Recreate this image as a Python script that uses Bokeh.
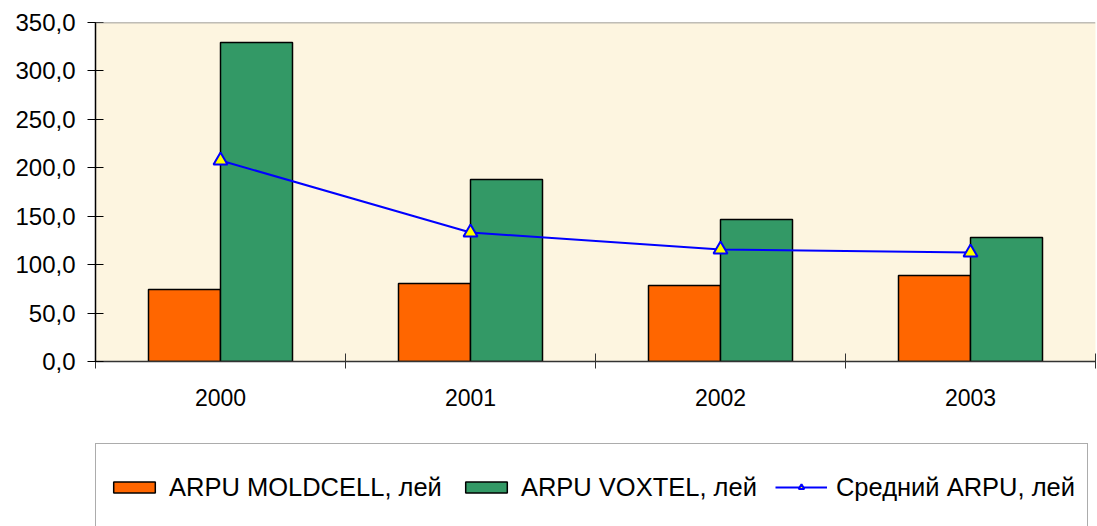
import numpy as np
from bokeh.plotting import figure
from bokeh.layouts import column
from bokeh.models import (Range1d, FixedTicker, CustomJSTickFormatter, Legend, LegendItem,
                          Span, ColumnDataSource)
from bokeh.transform import dodge
from bokeh.embed import file_html
from bokeh.resources import INLINE

years = ["2000", "2001", "2002", "2003"]
arpu_moldcell = [74.3, 80.5, 78.5, 88.8]
arpu_voxtel = [329.3, 187.9, 146.6, 128.0]
arpu_avg = [207.5, 133.2, 115.6, 112.5]
y_ticks = [0, 50, 100, 150, 200, 250, 300, 350]
series_names = ["ARPU MOLDCELL, лей", "ARPU VOXTEL, лей", "Средний ARPU, лей"]

FONT = "Liberation Sans"
ORANGE, GREEN, BLUE, YELLOW = "#FF6600", "#339966", "#0000FF", "#FFFF00"
pos = (np.arange(len(years)) + 0.5).tolist()
bar_w = 0.288

src = ColumnDataSource(dict(year=years, pos=pos, m=arpu_moldcell, v=arpu_voxtel, a=arpu_avg))


def add_series(fig):
    r_m = fig.vbar(x=dodge("pos", -bar_w / 2), top="m", width=bar_w, source=src,
                   fill_color=ORANGE, line_color="black", line_width=1.5)
    r_v = fig.vbar(x=dodge("pos", bar_w / 2), top="v", width=bar_w, source=src,
                   fill_color=GREEN, line_color="black", line_width=1.5)
    r_l = fig.line("pos", "a", source=src, line_color=BLUE, line_width=2)
    r_s = fig.scatter("pos", "a", source=src, marker="triangle", size=14,
                      fill_color=YELLOW, line_color=BLUE, line_width=2)
    return r_m, r_v, r_l, r_s


# ---- main chart ----
p = figure(width=1097, height=420, output_backend="svg", toolbar_location=None,
           x_range=Range1d(0, len(years)), y_range=Range1d(0, y_ticks[-1]),
           min_border_left=95, min_border_right=2, min_border_top=22, min_border_bottom=59,
           background_fill_color="#FDF5E0", border_fill_color="white",
           outline_line_color=None)
p.grid.visible = False

xa = p.xaxis[0]
xa.ticker = FixedTicker(ticks=pos, minor_ticks=list(range(len(years) + 1)))
xa.formatter = CustomJSTickFormatter(args=dict(labels=years),
                                     code="return labels[Math.floor(tick)] || '';")
xa.major_tick_in = 0
xa.major_tick_out = 0
xa.minor_tick_in = 8
xa.minor_tick_out = 7
xa.minor_tick_line_color = "#333333"
xa.minor_tick_line_width = 1
xa.axis_line_color = "#333333"
xa.axis_line_width = 1.5
xa.major_label_text_font = FONT
xa.major_label_text_font_size = "23px"
xa.major_label_text_color = "black"
xa.major_label_standoff = 20

ya = p.yaxis[0]
ya.ticker = FixedTicker(ticks=y_ticks, minor_ticks=[])
ya.formatter = CustomJSTickFormatter(code="return tick.toFixed(1).replace('.', ',');")
ya.major_tick_in = 8
ya.major_tick_out = 8
ya.major_tick_line_color = "black"
ya.axis_line_color = "black"
ya.axis_line_width = 1.5
ya.major_label_text_font = FONT
ya.major_label_text_font_size = "24px"
ya.major_label_text_color = "black"
ya.major_label_standoff = 12

p.add_layout(Span(location=y_ticks[-1], dimension="width", line_color="#808080", line_width=1.5))
add_series(p)

# ---- legend strip: same borders as the main chart; its own renderers lie outside
#      its visible range, so only the legend shows (box runs past the bottom edge) ----
p2 = figure(width=1097, height=106, output_backend="svg", toolbar_location=None,
            x_range=Range1d(100, 101), y_range=Range1d(1000, 1001),
            x_axis_location=None, y_axis_location=None,
            min_border_left=95, min_border_right=2, min_border_top=0, min_border_bottom=0,
            background_fill_color="white", border_fill_color="white",
            outline_line_color=None)
p2.grid.visible = False
r_m, r_v, r_l, r_s = add_series(p2)

legend = Legend(items=[LegendItem(label=series_names[0], renderers=[r_m]),
                       LegendItem(label=series_names[1], renderers=[r_v]),
                       LegendItem(label=series_names[2], renderers=[r_l, r_s])],
                location=(0, -5), orientation="horizontal",
                label_text_font=FONT, label_text_font_size="25.5px", label_text_color="black",
                glyph_width=52, glyph_height=14, label_standoff=9, spacing=18,
                padding=12, label_height=62, margin=0,
                border_line_color="#595959", border_line_width=1.5,
                background_fill_color="white", background_fill_alpha=1)
p2.add_layout(legend)

layout = column(p, p2, spacing=0)
open("out.html", "w").write(file_html(layout, INLINE))
